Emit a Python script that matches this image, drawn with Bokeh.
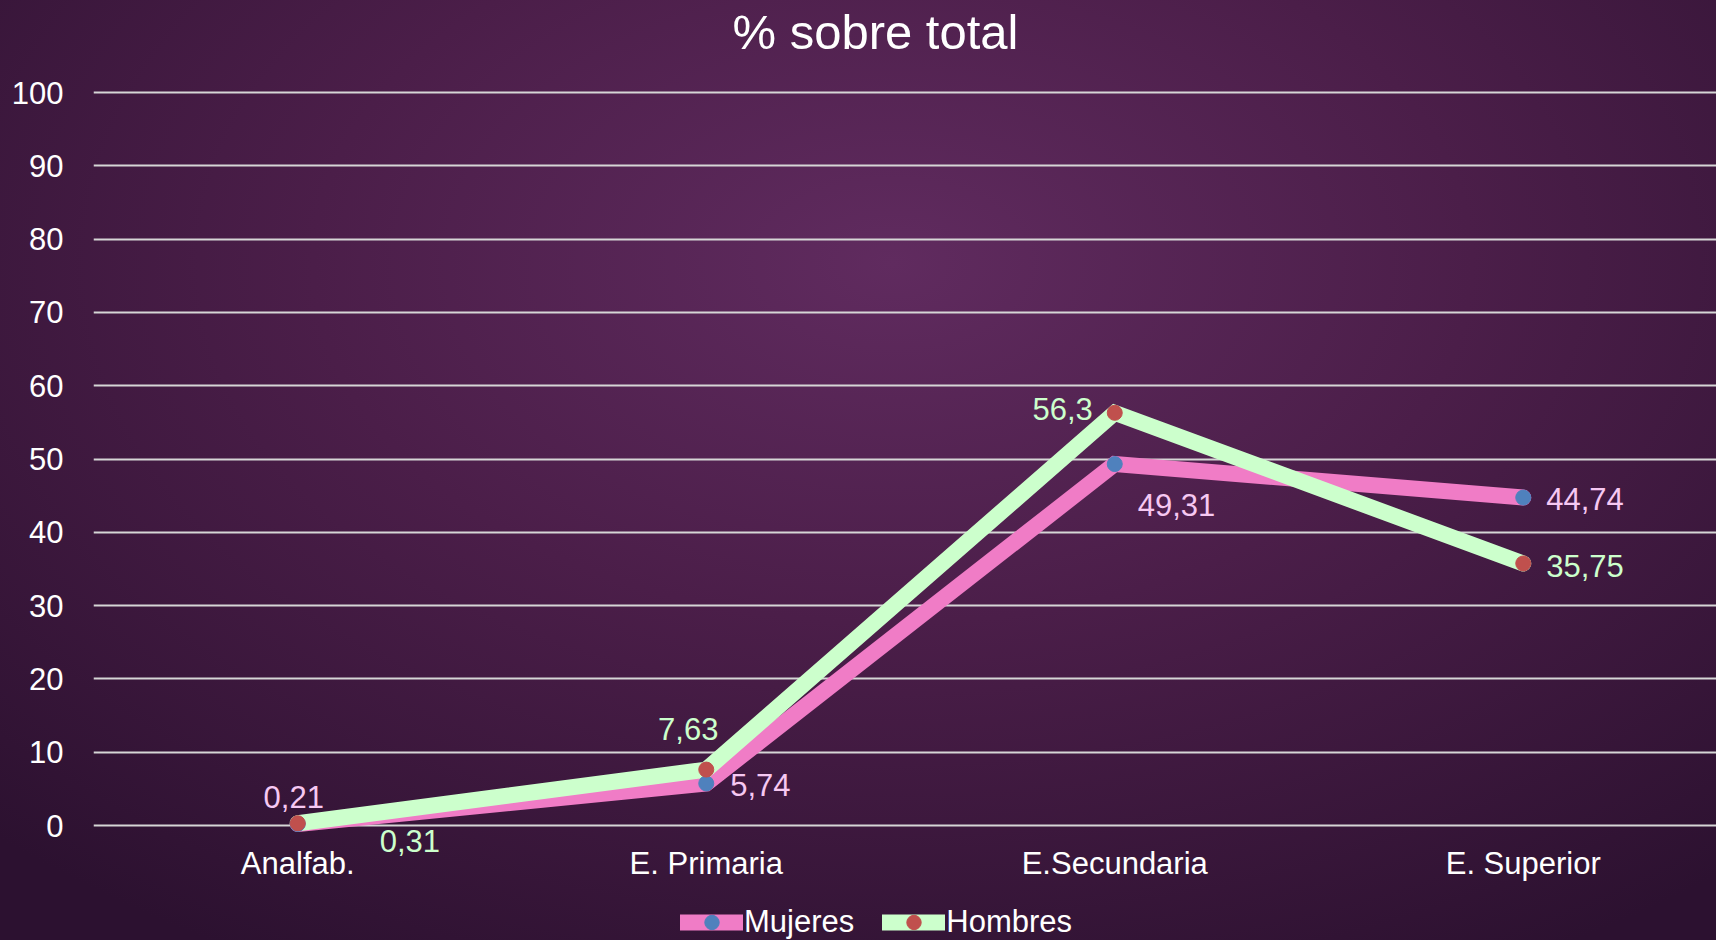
from bokeh.plotting import figure
from bokeh.layouts import column
from bokeh.models import ColumnDataSource, FixedTicker, Legend, LegendItem
from bokeh.core.properties import value
from bokeh.embed import file_html
from bokeh.resources import INLINE

# ---- data ----
categories = ["Analfab.", "E. Primaria", "E.Secundaria", "E. Superior"]
mujeres = [0.21, 5.74, 49.31, 44.74]
hombres = [0.31, 7.63, 56.3, 35.75]
y_ticks = [0, 10, 20, 30, 40, 50, 60, 70, 80, 90, 100]
series_names = ["Mujeres", "Hombres"]
title_text = "% sobre total"

# ---- styles ----
FONT = "Liberation Sans"
PINK = "#f07cc6"
GREEN = "#ccffcc"
BLUE = "#4f81bd"
RED = "#c0504d"
PINK_LABEL = "#f6c8f2"
GREEN_LABEL = "#ccffcc"
GRID = "#d6d6d6"

W, H = 1716, 900
LEG_H = 40
LEFT, TOP, BOTTOM = 93, 59, 44
PX_PER_CAT = 408.5
Y0_PX, Y100_PX = 825, 92          # page pixel rows of the 0 and 100 grid lines
PX_PER_UNIT = (Y0_PX - Y100_PX) / 100
frame_bottom = H - BOTTOM
frame_w = W - LEFT
x_start = -0.5
x_end = x_start + frame_w / PX_PER_CAT
y_start = -(frame_bottom - Y0_PX) / PX_PER_UNIT
y_end = 100 + (Y100_PX - TOP) / PX_PER_UNIT

xs = list(range(len(categories)))

# label placement (styles, screen px)
m_align = ["center", "left", "left", "left"]
m_dx = [-4, 24, 23, 23]
m_dy = [-27, 2, 41, 1]
h_align = ["left", "center", "right", "left"]
h_dx = [82, -18, -22, 23]
h_dy = [18, -41, -4, 3]


def fmt(v):
    return f"{v:g}".replace(".", ",")


src_m = ColumnDataSource(dict(x=xs, y=mujeres, label=[fmt(v) for v in mujeres],
                              align=m_align, dx=m_dx, dy=m_dy))
src_h = ColumnDataSource(dict(x=xs, y=hombres, label=[fmt(v) for v in hombres],
                              align=h_align, dx=h_dx, dy=h_dy))

p = figure(width=W, height=H, x_range=(x_start, x_end), y_range=(y_start, y_end),
           output_backend="svg", toolbar_location=None,
           min_border_left=LEFT, min_border_right=0, min_border_top=TOP,
           min_border_bottom=BOTTOM)
p.border_fill_color = None
p.background_fill_color = None
p.outline_line_color = None

# title
p.title.text = title_text
p.title.text_font = FONT
p.title.text_font_size = "49px"
p.title.text_font_style = "normal"
p.title.text_color = "white"
p.title.align = "left"
p.title.offset = 639
p.title.standoff = 1

# axes
for ax in (p.xaxis[0], p.yaxis[0]):
    ax.axis_line_color = None
    ax.major_tick_line_color = None
    ax.minor_tick_line_color = None
    ax.major_tick_out = 0
    ax.major_tick_in = 0
    ax.major_label_text_font = FONT
    ax.major_label_text_font_size = "31px"
    ax.major_label_text_color = "white"

p.xaxis.ticker = FixedTicker(ticks=xs)
p.xaxis.major_label_overrides = {i: c for i, c in enumerate(categories)}
p.xaxis.major_label_standoff = -11
p.yaxis.ticker = FixedTicker(ticks=y_ticks)
p.yaxis.major_label_standoff = 30

p.xgrid.visible = False
p.ygrid.ticker = FixedTicker(ticks=y_ticks)
p.ygrid.grid_line_color = GRID
p.ygrid.grid_line_width = 2

# lines then markers
line_kw = dict(line_width=16, line_join="miter", line_cap="round")
p.line("x", "y", source=src_m, line_color=PINK, **line_kw)
p.line("x", "y", source=src_h, line_color=GREEN, **line_kw)
p.scatter("x", "y", source=src_m, size=15, fill_color=BLUE, line_color=BLUE)
p.scatter("x", "y", source=src_h, size=15, fill_color=RED, line_color=RED)

# data labels
p.text("x", "y", text="label", source=src_m, x_offset="dx", y_offset="dy",
       text_align="align", text_baseline="middle", text_font=value(FONT),
       text_font_size="31px", text_color=PINK_LABEL)
p.text("x", "y", text="label", source=src_h, x_offset="dx", y_offset="dy",
       text_align="align", text_baseline="middle", text_font=value(FONT),
       text_font_size="31px", text_color=GREEN_LABEL)

# legend strip (separate figure below the chart); its glyph sources sit off-range
q = figure(width=W, height=LEG_H, x_range=(0, 1), y_range=(0, 1),
           output_backend="svg", toolbar_location=None,
           min_border_left=0, min_border_right=0, min_border_top=0,
           min_border_bottom=0, x_axis_type=None, y_axis_type=None)
q.border_fill_color = None
q.background_fill_color = None
q.outline_line_color = None
q.grid.visible = False
off = ColumnDataSource(dict(x=[-5, -4], y=[-5, -4]))
qlm = q.line("x", "y", source=off, line_color=PINK, **line_kw)
qsm = q.scatter("x", "y", source=off, size=15, fill_color=BLUE, line_color=BLUE)
qlh = q.line("x", "y", source=off, line_color=GREEN, **line_kw)
qsh = q.scatter("x", "y", source=off, size=15, fill_color=RED, line_color=RED)

legend = Legend(items=[LegendItem(label=series_names[0], renderers=[qlm, qsm]),
                       LegendItem(label=series_names[1], renderers=[qlh, qsh])],
                orientation="horizontal", location=(587, 0), padding=0, margin=0,
                spacing=28, glyph_width=63, glyph_height=36, label_height=36,
                label_standoff=1, label_text_font=FONT, label_text_font_size="31px",
                label_text_color="white", border_line_color=None,
                background_fill_alpha=0)
q.add_layout(legend)

layout = column(p, q, spacing=0)

TEMPLATE = """{% block preamble %}<style>
html { min-height: 100%; background: radial-gradient(ellipse 75% 85% at 52% 28%, #602b5f 0%, #4b1e49 45%, #2c1130 100%); }
body { background: transparent; }
</style>{% endblock %}"""

open("out.html", "w").write(file_html(layout, INLINE, template=TEMPLATE))
